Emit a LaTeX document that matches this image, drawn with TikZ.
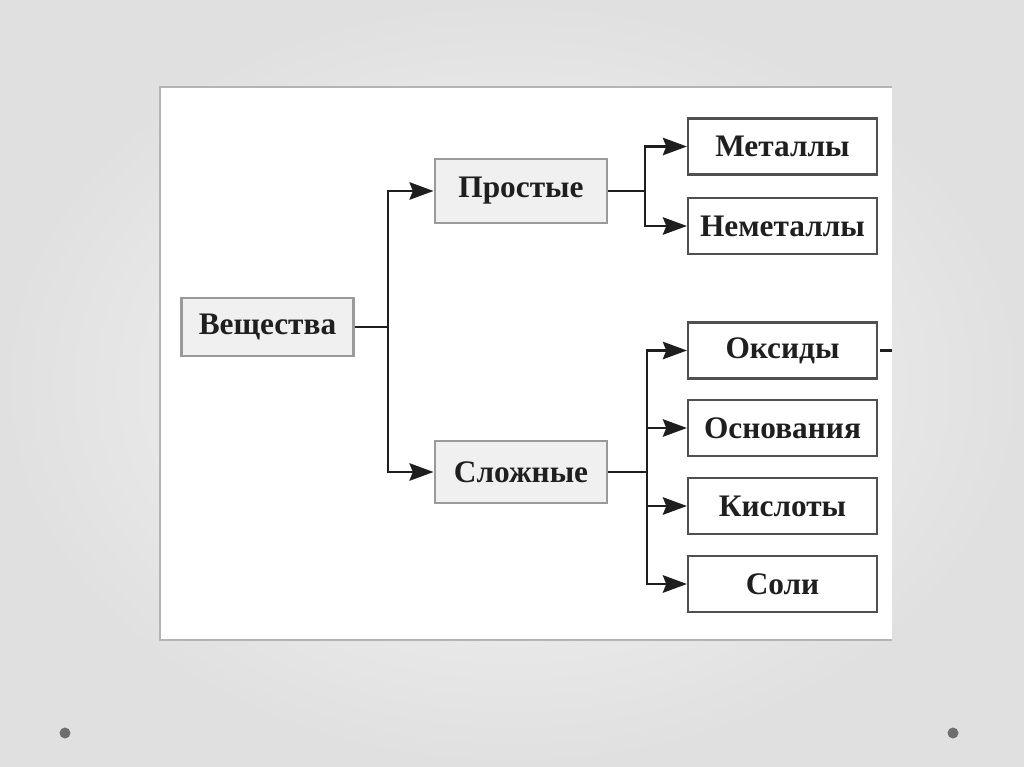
\documentclass[tikz,border=0pt]{standalone}
\usepackage{fontspec}
\setmainfont{Liberation Serif}
\usetikzlibrary{arrows.meta}
\definecolor{bgin}{HTML}{F8F8F8}
\definecolor{bgout}{HTML}{E0E0E0}
\definecolor{panelline}{HTML}{B4B4B4}
\definecolor{greybox}{HTML}{F0F0F0}
\definecolor{greyedge}{HTML}{9A9A9A}
\definecolor{leafedge}{HTML}{505050}
\definecolor{wire}{HTML}{1E1E1E}
\definecolor{dotc}{HTML}{6E6E6E}
\begin{document}
\begin{tikzpicture}[x=0.75pt,y=-0.75pt,
  lbl/.style={font=\fontsize{23.5}{28}\selectfont\bfseries, text=black!88, inner sep=0pt},
  midbox/.style={lbl, draw=greyedge, fill=greybox, line width=2.2pt},
  leafbox/.style={lbl, draw=leafedge, fill=white, line width=1.6pt,
     minimum width={189*0.75pt}, minimum height={56*0.75pt}},
  wireline/.style={draw=wire, line width=2.1pt},
  arr/.style={wireline, -{Stealth[length=18pt,width=13pt,inset=2.5pt]}}
]
\useasboundingbox (0,0) rectangle (1024,767);
\shade[inner color=bgin, outer color=bgout] (0,0) rectangle (1024,767);
% white panel
\fill[white] (160,87) rectangle (892,640);
\draw[panelline, line width=1.8pt] (892,87) -- (160,87) -- (160,640) -- (892,640);
% dots
\fill[dotc] (65,733) circle (5.5);
\fill[dotc] (953,733) circle (5.5);
% nodes
\node[midbox, minimum width={172*0.75pt}, minimum height={58*0.75pt}] (v) at (267.5,327) {Вещества};
\node[midbox, minimum width={172*0.75pt}, minimum height={64*0.75pt}] (p) at (521,191) {Простые};
\node[midbox, minimum width={172*0.75pt}, minimum height={62*0.75pt}] (s) at (521,472) {Сложные};
\node[leafbox] (m)  at (782.5,146.5) {Металлы};
\node[leafbox] (nm) at (782.5,226) {Неметаллы};
\node[leafbox] (ok) at (782.5,350.5) {Оксиды};
\node[leafbox] (os) at (782.5,428) {Основания};
\node[leafbox] (ki) at (782.5,506) {Кислоты};
\node[leafbox] (so) at (782.5,584) {Соли};
% connectors
\coordinate (j1) at (388,327);
\coordinate (j2) at (645,191);
\coordinate (j3) at (647,472);
\coordinate (stub) at (892,350.5);
\draw[wireline] (v.east) -- (j1);
\draw[arr] (j1) |- (p.west);
\draw[arr] (j1) |- (s.west);
\draw[wireline] (p.east) -- (j2);
\draw[arr] (j2) |- (m.west);
\draw[arr] (j2) |- (nm.west);
\draw[wireline] (s.east) -- (j3);
\draw[arr] (j3) |- (ok.west);
\draw[arr] (j3) |- (os.west);
\draw[arr] (j3) |- (ki.west);
\draw[arr] (j3) |- (so.west);
\draw[wireline] ([xshift=1.5pt]ok.east) -- (stub);
\end{tikzpicture}
\end{document}
